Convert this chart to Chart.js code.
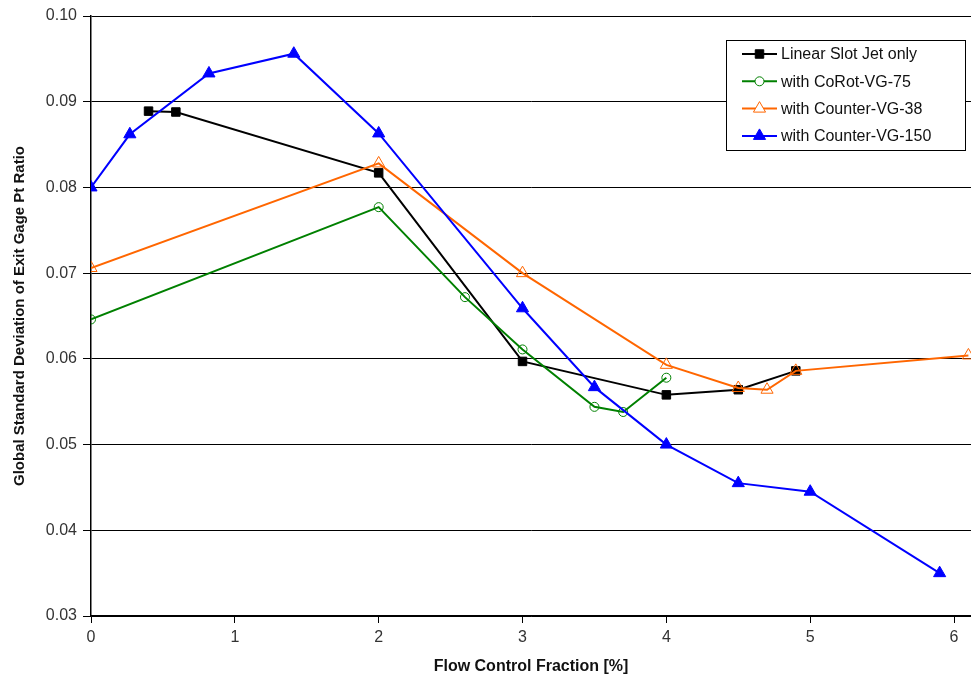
<!DOCTYPE html>
<html>
<head>
<meta charset="utf-8">
<script src="https://cdn.jsdelivr.net/npm/chart.js@4.4.0/dist/chart.umd.min.js"></script>
<style>
  body { margin: 0; background: #fff; overflow: hidden; }
  #recorte { width: 971px; height: 686px; overflow: hidden; }
  #wrap { width: 979px; height: 686px; }
</style>
</head>
<body>
<div id="recorte"><div id="wrap"><canvas id="grafico"></canvas></div></div>
<script>
// dados
var nomes = ["Linear Slot Jet only", "with CoRot-VG-75", "with Counter-VG-38", "with Counter-VG-150"];

var slotX = [0.4, 0.59, 2.0, 3.0, 4.0, 4.5, 4.9];
var slotY = [0.0889, 0.0888, 0.0817, 0.0597, 0.0558, 0.0564, 0.0586];

var coRotX = [0, 2.0, 2.6, 3.0, 3.5, 3.7, 4.0];
var coRotY = [0.0646, 0.0777, 0.0672, 0.0611, 0.0544, 0.0538, 0.0578];

var counter38X = [0, 2.0, 3.0, 4.0, 4.5, 4.7, 4.9, 6.1];
var counter38Y = [0.0706, 0.0828, 0.0700, 0.0593, 0.0566, 0.0564, 0.0586, 0.0604];

var counter150X = [0, 0.27, 0.82, 1.41, 2.0, 3.0, 3.5, 4.0, 4.5, 5.0, 5.9];
var counter150Y = [0.0800, 0.0862, 0.0933, 0.0956, 0.0863, 0.0659, 0.0567, 0.0500, 0.0455, 0.0445, 0.0350];

var ticksX = [0, 1, 2, 3, 4, 5, 6];
var ticksY = [0.03, 0.04, 0.05, 0.06, 0.07, 0.08, 0.09, 0.10];

function pontos(xs, ys) {
  return xs.map(function (x, i) { return { x: x, y: ys[i] }; });
}

// legenda desenhada dentro da area do grafico
var legendaInterna = {
  id: "legendaInterna",
  afterDraw: function (chart) {
    var ctx = chart.ctx;
    var x0 = 726, y0 = 40, w = 239, h = 110;
    ctx.save();
    ctx.fillStyle = "#fff";
    ctx.fillRect(x0, y0, w, h);
    ctx.strokeStyle = "#000";
    ctx.lineWidth = 1;
    ctx.strokeRect(x0 + 0.5, y0 + 0.5, w, h);
    chart.data.datasets.forEach(function (ds, i) {
      var yy = 54 + i * 27.3;
      ctx.strokeStyle = ds.borderColor;
      ctx.lineWidth = 2;
      ctx.beginPath();
      ctx.moveTo(742, yy);
      ctx.lineTo(777, yy);
      ctx.stroke();
      // marcadores abertos ficam brancos por dentro na legenda
      ctx.fillStyle = ds.pointBackgroundColor.indexOf("rgba") == 0 ? "#fff" : ds.pointBackgroundColor;
      ctx.strokeStyle = ds.pointBorderColor;
      ctx.lineWidth = 1;
      Chart.helpers.drawPoint(ctx, {
        pointStyle: ds.pointStyle,
        radius: ds.pointRadius,
        borderWidth: 1
      }, 759.5, yy);
      ctx.fillStyle = "#111";
      ctx.font = "16px 'Liberation Sans', Arial, sans-serif";
      ctx.textBaseline = "middle";
      ctx.textAlign = "left";
      ctx.fillText(ds.label, 781, yy + 1);
    });
    ctx.restore();
  }
};

new Chart(document.getElementById("grafico"), {
  type: "line",
  data: {
    datasets: [
      {
        label: nomes[0],
        data: pontos(slotX, slotY),
        borderColor: "#000000",
        pointStyle: "rect",
        pointRadius: 6,
        pointBackgroundColor: "#000000",
        pointBorderColor: "#000000",
        order: 4
      },
      {
        label: nomes[1],
        data: pontos(coRotX, coRotY),
        borderColor: "#008000",
        pointStyle: "circle",
        pointRadius: 4.5,
        pointBackgroundColor: "rgba(255,255,255,0)",
        pointBorderColor: "#008000",
        order: 3
      },
      {
        label: nomes[2],
        data: pontos(counter38X, counter38Y),
        borderColor: "#ff6600",
        pointStyle: "triangle",
        pointRadius: 7,
        pointBackgroundColor: "rgba(255,255,255,0)",
        pointBorderColor: "#ff6600",
        order: 2
      },
      {
        label: nomes[3],
        data: pontos(counter150X, counter150Y),
        borderColor: "#0000ff",
        pointStyle: "triangle",
        pointRadius: 7,
        pointBackgroundColor: "#0000ff",
        pointBorderColor: "#0000ff",
        order: 1
      }
    ]
  },
  options: {
    responsive: true,
    maintainAspectRatio: false,
    animation: false,
    layout: { padding: { top: 16, right: 0, left: 0, bottom: 0 } },
    elements: {
      line: { borderWidth: 2, tension: 0 },
      point: { borderWidth: 1 }
    },
    plugins: {
      legend: { display: false },
      tooltip: { enabled: false }
    },
    scales: {
      x: {
        type: "linear",
        min: 0,
        max: 6.118,
        afterBuildTicks: function (axis) {
          axis.ticks = ticksX.map(function (v) { return { value: v }; });
        },
        afterFit: function (axis) {
          axis.height = 70;
        },
        grid: {
          drawOnChartArea: false,
          drawTicks: true,
          tickLength: 7,
          color: "#000"
        },
        border: { color: "#000", width: 1.5 },
        ticks: {
          color: "#333",
          padding: 5,
          font: { family: "'Liberation Sans', Arial, sans-serif", size: 16 },
          maxRotation: 0
        },
        title: {
          display: true,
          text: "Flow Control Fraction [%]",
          color: "#111",
          font: { family: "'Liberation Sans', Arial, sans-serif", size: 16, weight: "bold" },
          padding: { top: 4, bottom: 10 }
        }
      },
      y: {
        type: "linear",
        min: 0.03,
        max: 0.10,
        afterBuildTicks: function (axis) {
          axis.ticks = ticksY.map(function (v) { return { value: v }; });
        },
        afterFit: function (axis) { axis.width = 91; },
        grid: {
          color: "#000",
          lineWidth: 1,
          drawTicks: true,
          tickLength: 8
        },
        border: { color: "#000", width: 1.5 },
        ticks: {
          color: "#333",
          padding: 6,
          font: { family: "'Liberation Sans', Arial, sans-serif", size: 16 },
          callback: function (v) { return v.toFixed(2); }
        },
        title: {
          display: true,
          text: "Global Standard Deviation of Exit Gage Pt Ratio",
          color: "#111",
          font: { family: "'Liberation Sans', Arial, sans-serif", size: 15, weight: "bold" },
          padding: { top: 11, bottom: 4 }
        }
      }
    }
  },
  plugins: [legendaInterna]
});
</script>
</body>
</html>
